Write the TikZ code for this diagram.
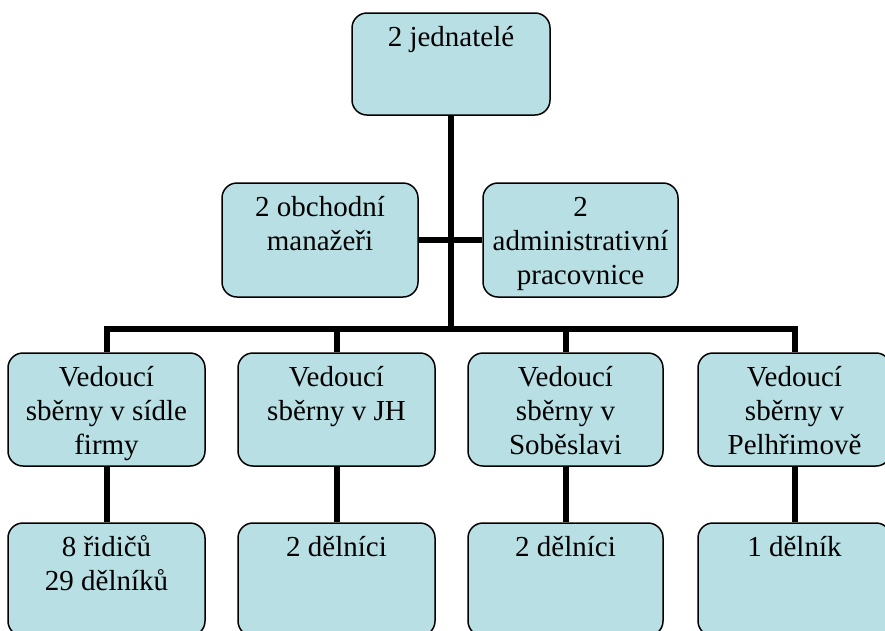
\documentclass[tikz,border=0pt]{standalone}
\usepackage{fontspec}
\setmainfont{Liberation Serif}
\usetikzlibrary{backgrounds}
\definecolor{boxfill}{RGB}{184,223,227}
\newcommand{\bxt}[3]{\parbox[c][#2pt][t]{#1pt}{\centering\fontsize{29}{34}\selectfont\rule{0pt}{33pt}#3}}
\tikzset{
  box/.style={draw=black, fill=boxfill, line width=1.5pt, rounded corners=15pt, inner sep=0pt},
  conn/.style={draw=black, line width=6pt, line join=miter}
}
\begin{document}
\begin{tikzpicture}[x=1pt,y=-1pt]
\useasboundingbox (0,0) rectangle (885,630);
\clip (0,0) rectangle (885,630);
\node[box] (top) at (451,64) {\bxt{198}{102}{2 jednatelé}};
\node[box] (ml) at (320,240) {\bxt{196}{114}{2 obchodní\\manažeři}};
\node[box] (mr) at (580.5,240) {\bxt{195}{114}{2\\administrativní\\pracovnice}};
\node[box] (b1) at (106.5,409.5) {\bxt{197}{113}{Vedoucí\\sběrny v sídle\\firmy}};
\node[box] (b2) at (336.5,409.5) {\bxt{197}{113}{Vedoucí\\sběrny v JH}};
\node[box] (b3) at (565.5,409.5) {\bxt{195}{113}{Vedoucí\\sběrny v\\Soběslavi}};
\node[box] (b4) at (794.5,409.5) {\bxt{193}{113}{Vedoucí\\sběrny v\\Pelhřimově}};
\node[box] (c1) at (106.5,579.5) {\bxt{197}{113}{8 řidičů\\29 dělníků}};
\node[box] (c2) at (336.5,579.5) {\bxt{197}{113}{2 dělníci}};
\node[box] (c3) at (565.5,579.5) {\bxt{195}{113}{2 dělníci}};
\node[box] (c4) at (794.5,579.5) {\bxt{193}{113}{1 dělník}};
\coordinate (j) at (451,329);
\begin{scope}[on background layer]
\draw[conn] (top.south) -- (top.south |- j);
\draw[conn] (ml.east) -- (mr.west);
\draw[conn] (b1.north) -- (b1.north |- j) -- (b4.north |- j) -- (b4.north);
\draw[conn] (b2.north) -- (b2.north |- j);
\draw[conn] (b3.north) -- (b3.north |- j);
\draw[conn] (b1.south) -- (c1.north);
\draw[conn] (b2.south) -- (c2.north);
\draw[conn] (b3.south) -- (c3.north);
\draw[conn] (b4.south) -- (c4.north);
\end{scope}
\end{tikzpicture}
\end{document}
